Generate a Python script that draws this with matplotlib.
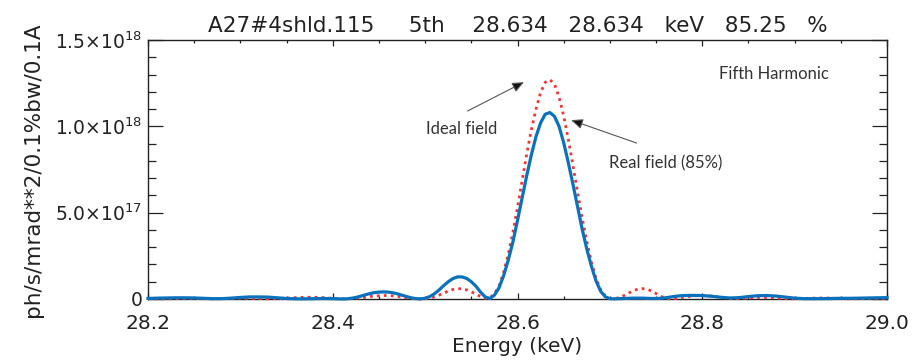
import matplotlib
matplotlib.use("Agg")
import matplotlib.pyplot as plt
from matplotlib.ticker import MultipleLocator, FixedLocator

# ---------------- data (values in units of 1e18) ----------------
energy = [
    28.20, 28.21, 28.22, 28.23, 28.24, 28.25, 28.26, 28.27, 28.28, 28.29,
    28.30, 28.31, 28.32, 28.33, 28.34, 28.35, 28.36, 28.37, 28.38, 28.39, 28.40,
    28.405, 28.41, 28.415, 28.42, 28.425, 28.43, 28.435, 28.44, 28.445, 28.45,
    28.455, 28.46, 28.465, 28.47, 28.475, 28.48, 28.485, 28.49, 28.495, 28.50,
    28.505, 28.51, 28.515, 28.52, 28.525, 28.53, 28.535, 28.54, 28.545, 28.55,
    28.555, 28.56, 28.565,
    28.57, 28.575, 28.58, 28.585, 28.59, 28.595, 28.60, 28.605, 28.61, 28.615,
    28.62, 28.625, 28.63, 28.635, 28.64, 28.645, 28.65, 28.655, 28.66, 28.665,
    28.67, 28.675, 28.68, 28.685, 28.69, 28.695, 28.70,
    28.705, 28.71, 28.715, 28.72, 28.725, 28.73, 28.735, 28.74, 28.745, 28.75,
    28.755, 28.76, 28.765, 28.77, 28.775, 28.78,
    28.79, 28.80, 28.81, 28.82, 28.83, 28.84, 28.85, 28.86, 28.87, 28.88,
    28.89, 28.90, 28.91, 28.92, 28.93, 28.94, 28.95, 28.96, 28.97, 28.98,
    28.99, 29.00,
]

real_field = [
    0.003, 0.005, 0.006, 0.007, 0.007, 0.006, 0.004, 0.002, 0.002, 0.005,
    0.009, 0.012, 0.012, 0.011, 0.007, 0.003, 0.001, 0.001, 0.002, 0.003, 0.002,
    0.001, 0.0005, 0.001, 0.004, 0.009, 0.016, 0.024, 0.031, 0.037, 0.040,
    0.041, 0.040, 0.036, 0.030, 0.022, 0.014, 0.007, 0.002, 0.001, 0.004,
    0.014, 0.030, 0.052, 0.077, 0.100, 0.118, 0.128, 0.128, 0.119, 0.100,
    0.074, 0.040, 0.012,
    0.003, 0.022, 0.065, 0.135, 0.225, 0.330, 0.455, 0.585, 0.715, 0.835,
    0.940, 1.020, 1.070, 1.080, 1.058, 1.000, 0.905, 0.790, 0.665, 0.535,
    0.405, 0.290, 0.190, 0.105, 0.045, 0.013, 0.002,
    0.001, 0.002, 0.003, 0.004, 0.005, 0.005, 0.005, 0.004, 0.003, 0.003,
    0.004, 0.007, 0.011, 0.015, 0.018, 0.020,
    0.021, 0.020, 0.016, 0.010, 0.006, 0.008, 0.014, 0.019, 0.020, 0.017,
    0.011, 0.005, 0.002, 0.002, 0.002, 0.003, 0.004, 0.004, 0.005, 0.006,
    0.007, 0.008,
]

ideal_field = [
    0.002, 0.001, 0.001, 0.002, 0.003, 0.003, 0.002, 0.001, 0.002, 0.004,
    0.005, 0.004, 0.002, 0.001, 0.002, 0.005, 0.008, 0.010, 0.010, 0.008, 0.004,
    0.002, 0.001, 0.001, 0.002, 0.004, 0.007, 0.010, 0.014, 0.017, 0.019,
    0.020, 0.020, 0.018, 0.015, 0.011, 0.007, 0.004, 0.001, 0.000, 0.001,
    0.005, 0.012, 0.022, 0.034, 0.046, 0.055, 0.060, 0.059, 0.053, 0.042,
    0.028, 0.014, 0.004,
    0.006, 0.030, 0.075, 0.155, 0.260, 0.385, 0.530, 0.685, 0.840, 0.980,
    1.100, 1.195, 1.255, 1.270, 1.245, 1.170, 1.060, 0.925, 0.775, 0.620,
    0.470, 0.335, 0.215, 0.120, 0.055, 0.018, 0.003,
    0.002, 0.008, 0.019, 0.033, 0.047, 0.057, 0.060, 0.057, 0.047, 0.032,
    0.016, 0.005, 0.001, 0.002, 0.006, 0.011,
    0.018, 0.020, 0.017, 0.010, 0.003, 0.002, 0.006, 0.009, 0.009, 0.006,
    0.002, 0.001, 0.003, 0.005, 0.006, 0.005, 0.002, 0.001, 0.002, 0.004,
    0.004, 0.003,
]

scale = 1e18
x_ticks = [28.2, 28.4, 28.6, 28.8, 29.0]
x_tick_labels = ["28.2", "28.4", "28.6", "28.8", "29.0"]
y_ticks = [0.0, 0.5e18, 1.0e18, 1.5e18]
y_tick_labels = ["0", r"5.0$\times$10$^{17}$", r"1.0$\times$10$^{18}$", r"1.5$\times$10$^{18}$"]
title_text = "A27#4shld.115     5th    28.634   28.634   keV   85.25   %"

# ---------------- figure ----------------
plt.rcParams["mathtext.fontset"] = "dejavusans"
plt.rcParams["font.family"] = ["DejaVu Sans"]

fig = plt.figure(figsize=(9.2, 3.64), dpi=100)
ax = fig.add_axes([148 / 920, 65 / 364, 739 / 920, 259 / 364])

ideal_y = [v * scale for v in ideal_field]
real_y = [v * scale for v in real_field]

ax.plot(energy, ideal_y, linestyle=(0, (1, 1.5)), color="#f03434", linewidth=2.0,
        clip_on=False, zorder=3)
ax.plot(energy, real_y, linestyle="-", color="#0a72bd", linewidth=2.3,
        clip_on=False, zorder=4)

ax.set_xlim(28.2, 29.0)
ax.set_ylim(0, 1.5e18)

ax.xaxis.set_major_locator(FixedLocator(x_ticks))
ax.set_xticklabels(x_tick_labels)
ax.xaxis.set_minor_locator(MultipleLocator(0.05))
ax.yaxis.set_major_locator(FixedLocator(y_ticks))
ax.set_yticklabels(y_tick_labels)
ax.yaxis.set_minor_locator(MultipleLocator(0.1e18))

ax.tick_params(axis="both", which="both", direction="in", top=True, right=True,
               colors="#222222", width=0.9)
ax.tick_params(axis="x", which="major", length=4.0, pad=11, labelsize=14.5)
ax.tick_params(axis="x", which="minor", length=2.0)
ax.tick_params(axis="y", which="major", length=11, pad=4, labelsize=13.5)
ax.tick_params(axis="y", which="minor", length=5.5)

for s in ax.spines.values():
    s.set_color("#222222")
    s.set_linewidth(1.0)

ax.set_xlabel("Energy (keV)", fontsize=14.5, labelpad=3, color="#222222")
ax.set_ylabel("ph/s/mrad**2/0.1%bw/0.1A", fontsize=15.5, labelpad=9, color="#222222")
ax.set_title(title_text, fontsize=15.5, pad=6, color="#222222")

ann_font = ["Lato", "DejaVu Sans"]
ax.text(28.878, 1.305e18, "Fifth Harmonic", fontsize=12, family=ann_font,
        color="#333333", ha="center", va="center")
ax.text(28.539, 0.985e18, "Ideal field", fontsize=12, family=ann_font,
        color="#333333", ha="center", va="center")
ax.text(28.760, 0.785e18, "Real field (85%)", fontsize=12, family=ann_font,
        color="#333333", ha="center", va="center")

arrow_style = dict(arrowstyle="-|>,head_length=0.7,head_width=0.3", color="#555555",
                   lw=0.8, shrinkA=0, shrinkB=0)
ax.annotate("", xy=(28.607, 1.256e18), xytext=(28.546, 1.089e18),
            arrowprops=dict(arrow_style, fc="#111111", ec="#555555"))
ax.annotate("", xy=(28.658, 1.036e18), xytext=(28.729, 0.903e18),
            arrowprops=dict(arrow_style, fc="#111111", ec="#555555"))

fig.savefig("out.png", dpi=100, facecolor="white")
